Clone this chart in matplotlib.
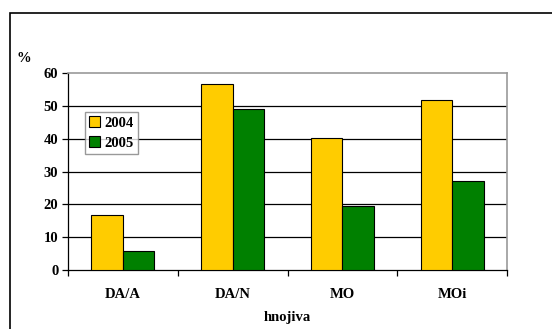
import matplotlib
matplotlib.use("Agg")
import matplotlib.pyplot as plt
from matplotlib.patches import Rectangle
import numpy as np

categories = ["DA/A", "DA/N", "MO", "MOi"]
years = ["2004", "2005"]
values_2004 = [16.7, 56.6, 40.1, 51.8]
values_2005 = [5.7, 48.9, 19.5, 27.2]
y_ticks = [0, 10, 20, 30, 40, 50, 60]

plt.rcParams["font.family"] = ["Liberation Serif", "DejaVu Serif"]
plt.rcParams["font.weight"] = "bold"
FS = 10.5

fig = plt.figure(figsize=(5.52, 3.29), dpi=100)
ax = fig.add_axes([0.1232, 0.1793, 0.7953, 0.5988])

# outer chart frame (runs past the right and bottom edges)
fig.patches.append(Rectangle((10 / 552, -0.2), 1.2, 0.2 + (1 - 13 / 329),
                             transform=fig.transFigure, fill=False,
                             edgecolor="black", linewidth=1.2, clip_on=False))

x = np.arange(len(categories))
w = 0.288
ax.bar(x - w / 2, values_2004, w, color="#FFCC00", edgecolor="black",
       linewidth=0.8, label=years[0], zorder=3)
ax.bar(x + w / 2, values_2005, w, color="#008000", edgecolor="black",
       linewidth=0.8, label=years[1], zorder=3)

ax.set_xlim(-0.5, len(categories) - 0.5)
ax.set_ylim(0, 60)
ax.set_yticks(y_ticks)
ax.set_yticklabels([str(v) for v in y_ticks], fontsize=FS, fontweight="bold")
for v in y_ticks[1:-1]:
    ax.axhline(v, color="black", linewidth=0.9, zorder=1)

ax.set_xticks(np.arange(len(categories) + 1) - 0.5)
ax.set_xticklabels([])
ax.set_xticks(x, minor=True)
ax.set_xticklabels(categories, minor=True, fontsize=FS, fontweight="bold")
ax.tick_params(axis="x", which="major", direction="out", length=4, width=0.9)
ax.tick_params(axis="x", which="minor", length=0, pad=13)
ax.tick_params(axis="y", direction="out", length=4, width=0.9, pad=3)

for side in ["left", "bottom"]:
    ax.spines[side].set_color("black")
    ax.spines[side].set_linewidth(0.9)
for side in ["top", "right"]:
    ax.spines[side].set_color("#999999")
    ax.spines[side].set_linewidth(1.2)

fig.text(24 / 552, 1 - 58 / 329, "%", fontsize=FS, fontweight="bold",
         ha="center", va="center")
fig.text(287 / 552, 1 - 318 / 329, "hnojiva", fontsize=FS, fontweight="bold",
         ha="center", va="center")

leg = ax.legend(loc="upper left", bbox_to_anchor=(17 / 439, 1 - 39 / 197),
                prop={"weight": "bold", "size": FS},
                frameon=True, fancybox=False, handlelength=0.75,
                handleheight=0.75, handletextpad=0.25, borderpad=0.3,
                labelspacing=0.45, borderaxespad=0)
leg.get_frame().set_edgecolor("#808080")
leg.get_frame().set_linewidth(1.0)

fig.savefig("out.png", dpi=100)
